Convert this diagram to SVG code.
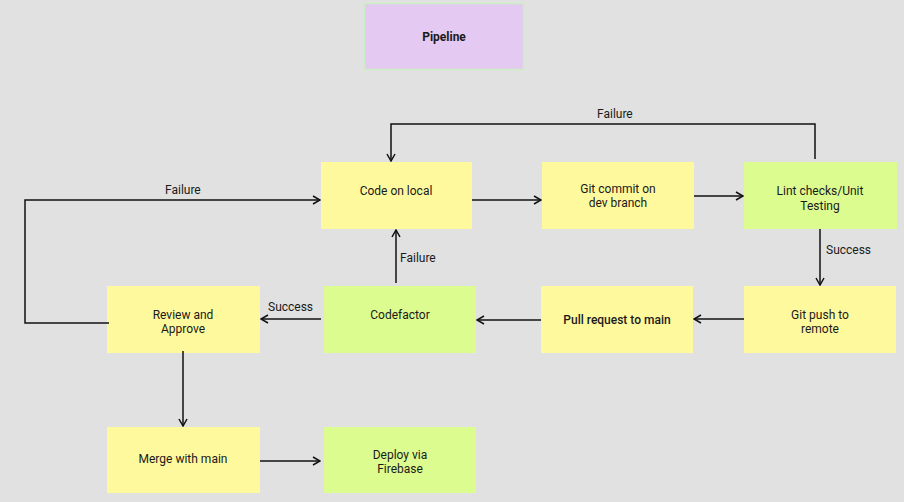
<svg xmlns="http://www.w3.org/2000/svg" width="904" height="502" viewBox="0 0 904 502">
<defs>
<style>
.y{fill:#fff99d}
.g{fill:#ddfc8f}
.t{font-family:Roboto,Inter,"Liberation Sans",sans-serif;font-size:12px;fill:#1a1a1a;text-anchor:middle}
.l{font-family:Roboto,Inter,"Liberation Sans",sans-serif;font-size:12px;fill:#1a1a1a}
.c{fill:none;stroke:#111;stroke-width:1.5}
</style>
<marker id="a" viewBox="0 0 10 10" refX="9" refY="5" markerWidth="10" markerHeight="10" markerUnits="userSpaceOnUse" orient="auto">
<path d="M2,1 L9,5 L2,9" fill="none" stroke="#111" stroke-width="1.5"/>
</marker>
</defs>
<rect width="904" height="502" fill="#e1e1e1"/>
<g id="pipeline">
<rect x="364.5" y="3.5" width="159" height="66" fill="#e4c9f2" stroke="#c9efc2" stroke-width="1.5"/>
<text class="t" x="444" y="41" font-weight="bold">Pipeline</text>
</g>
<g id="code-local">
<rect class="y" x="321" y="162" width="151" height="67"/>
<text class="t" x="396" y="195">Code on local</text>
</g>
<g id="git-commit">
<rect class="y" x="542" y="162" width="152" height="67"/>
<text class="t" x="618" y="193">Git commit on</text>
<text class="t" x="618" y="207">dev branch</text>
</g>
<g id="lint">
<rect class="g" x="744" y="162" width="153" height="67"/>
<text class="t" x="820" y="195">Lint checks/Unit</text>
<text class="t" x="820" y="210">Testing</text>
</g>
<g id="git-push">
<rect class="y" x="744" y="286" width="152" height="67"/>
<text class="t" x="820" y="319">Git push to</text>
<text class="t" x="820" y="333">remote</text>
</g>
<g id="pull-request">
<rect class="y" x="541" y="286" width="152" height="67"/>
<text class="t" x="617" y="324" font-weight="500">Pull request to main</text>
</g>
<g id="codefactor">
<rect class="g" x="324" y="286" width="152" height="67"/>
<text class="t" x="400" y="319">Codefactor</text>
</g>
<g id="review">
<rect class="y" x="107" y="286" width="153" height="67"/>
<text class="t" x="183" y="319">Review and</text>
<text class="t" x="183" y="333">Approve</text>
</g>
<g id="merge">
<rect class="y" x="107" y="427" width="153" height="66"/>
<text class="t" x="183" y="463">Merge with main</text>
</g>
<g id="deploy">
<rect class="g" x="324" y="427" width="152" height="66"/>
<text class="t" x="400" y="459">Deploy via</text>
<text class="t" x="400" y="473">Firebase</text>
</g>
<g id="connectors">
<path class="c" d="M815,159 V124 H391 V161" marker-end="url(#a)"/>
<text class="l" x="597" y="118">Failure</text>
<path class="c" d="M472,200 H541" marker-end="url(#a)"/>
<path class="c" d="M694,196 H743" marker-end="url(#a)"/>
<path class="c" d="M820,229 V285" marker-end="url(#a)"/>
<text class="l" x="826" y="254">Success</text>
<path class="c" d="M744,319 H694" marker-end="url(#a)"/>
<path class="c" d="M541,320 H477" marker-end="url(#a)"/>
<path class="c" d="M396,283 V230" marker-end="url(#a)"/>
<text class="l" x="400" y="262">Failure</text>
<path class="c" d="M321,319 H261" marker-end="url(#a)"/>
<text class="l" x="268" y="311">Success</text>
<path class="c" d="M109,323 H25 V200 H320" marker-end="url(#a)"/>
<text class="l" x="165" y="194">Failure</text>
<path class="c" d="M183,351 V426" marker-end="url(#a)"/>
<path class="c" d="M260,461 H320" marker-end="url(#a)"/>
</g>
</svg>
